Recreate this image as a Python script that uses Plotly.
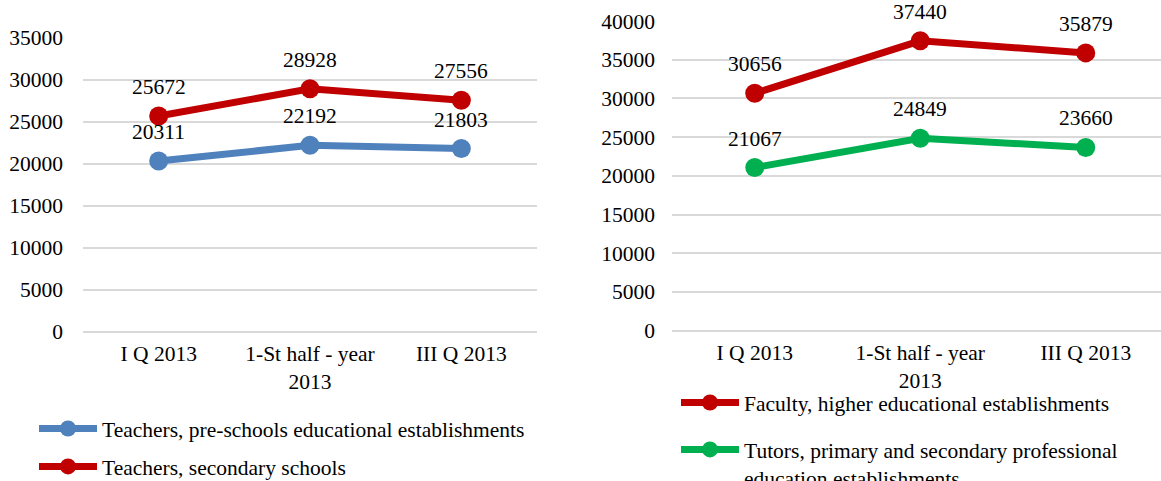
import plotly.graph_objects as go

categories = ["I Q 2013", "1-St half - year<br>2013", "III Q 2013"]

left_names = ["Teachers, pre-schools educational establishments", "Teachers, secondary schools"]
left_preschool = [20311, 22192, 21803]
left_secondary = [25672, 28928, 27556]

right_names = ["Faculty, higher educational establishments",
               "Tutors, primary and secondary professional<br>education establishments"]
right_faculty = [30656, 37440, 35879]
right_tutors = [21067, 24849, 23660]

BLUE = "#4F81BD"
RED = "#C00000"
GREEN = "#00B050"
FONT = "Liberation Serif, Times New Roman, serif"
GRID = "#D9D9D9"
FS = 21.5
W, H = 1161, 481

fig = go.Figure()

def add(y, name, color, xa, ya, legend, group):
    fig.add_trace(go.Scatter(
        x=categories, y=y, name=name, mode="lines+markers",
        line=dict(color=color, width=7),
        marker=dict(color=color, size=19),
        xaxis=xa, yaxis=ya, legend=legend, legendgroup=group,
        hoverinfo="skip"))
    for c, v in zip(categories, y):
        fig.add_annotation(x=c, y=v, xref=xa, yref=ya, text=str(v),
                           showarrow=False, yshift=29,
                           font=dict(family=FONT, size=FS, color="#000"))

add(left_preschool, left_names[0], BLUE, "x", "y", "legend", "a")
add(left_secondary, left_names[1], RED, "x", "y", "legend", "b")
add(right_faculty, right_names[0], RED, "x2", "y2", "legend2", "c")
add(right_tutors, right_names[1], GREEN, "x2", "y2", "legend2", "d")

axfont = dict(family=FONT, size=FS, color="#000")
xcommon = dict(type="category", showgrid=False, zeroline=False, showline=False,
               ticks="", tickfont=axfont, ticklabelstandoff=7, tickangle=0,
               automargin=False)
ycommon = dict(showgrid=True, gridcolor=GRID, gridwidth=1.5, zeroline=True,
               zerolinecolor=GRID, zerolinewidth=1.5, showline=False, ticks="",
               tickfont=axfont, dtick=5000, tickformat="d", automargin=False)

fig.update_layout(
    width=W, height=H,
    margin=dict(l=0, r=0, t=0, b=0, autoexpand=False),
    paper_bgcolor="white", plot_bgcolor="white",
    font=dict(family=FONT, size=FS, color="#000"),
    showlegend=True,
    xaxis=dict(xcommon, domain=[83 / W, 537 / W], range=[-0.5, 2.5]),
    yaxis=dict(ycommon, domain=[(H - 331.7) / H, (H - 37.7) / H], range=[0, 35000],
               ticklabelstandoff=19),
    xaxis2=dict(xcommon, domain=[672 / W, 1.0], range=[-0.5, 2.4547], anchor="y2"),
    yaxis2=dict(ycommon, domain=[(H - 330.6) / H, (H - 21) / H], range=[0, 40000],
                anchor="x2", ticklabelstandoff=16),
    legend=dict(xref="container", yref="container", x=34 / W, y=(H - 408) / H,
                xanchor="left", yanchor="top", itemwidth=58, tracegroupgap=7,
                font=dict(family=FONT, size=FS, color="#000"), bgcolor="rgba(0,0,0,0)",
                itemclick=False, itemdoubleclick=False),
    legend2=dict(xref="container", yref="container", x=676 / W, y=(H - 382) / H,
                 xanchor="left", yanchor="top", itemwidth=58, tracegroupgap=16,
                 valign="top",
                 font=dict(family=FONT, size=FS, color="#000"), bgcolor="rgba(0,0,0,0)",
                 itemclick=False, itemdoubleclick=False),
)

fig.write_html("out.html")
